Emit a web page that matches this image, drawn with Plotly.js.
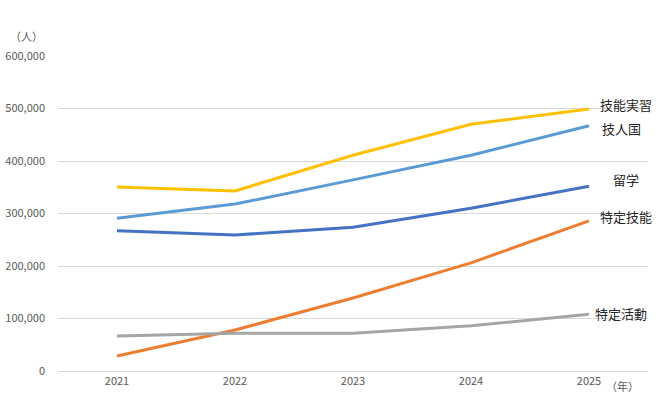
<!DOCTYPE html>
<html><head><meta charset="utf-8">
<script src="https://cdn.plot.ly/plotly-3.0.1.min.js"></script>
<style>html,body{margin:0;padding:0;background:#fff}#chart{width:664px;height:401px}</style>
</head><body><div id="chart"></div>
<script>
const years = ["2021","2022","2023","2024","2025"];
const seriesNames = ["技能実習","技人国","留学","特定技能","特定活動"];
const ginouJisshu = [350500, 343000, 411000, 470000, 499000];
const gijinkoku = [291000, 318000, 364000, 411000, 467000];
const ryugaku = [267000, 259000, 274000, 310000, 352000];
const tokuteiGinou = [28600, 78000, 139000, 206000, 286000];
const tokuteiKatsudo = [66700, 72000, 72000, 86000, 108000];
const yTickVals = [0,100000,200000,300000,400000,500000,600000];
const yTickText = ["0","100,000","200,000","300,000","400,000","500,000","600,000"];

const values = [ginouJisshu, gijinkoku, ryugaku, tokuteiGinou, tokuteiKatsudo];
const colors = ["#FFC000","#5B9BD5","#4472C4","#ED7D31","#A5A5A5"];
const labelShift = [[37,5],[32,-3],[37,7],[37,4],[32,1]];

const traces = values.map((v,i)=>({
  x: years, y: v, type:'scatter', mode:'lines', name: seriesNames[i],
  line:{color:colors[i], width:3}, hoverinfo:'skip'
}));

const lastIdx = years.length-1;
const annotations = values.map((v,i)=>({
  x: lastIdx, y: v[lastIdx], xref:'x', yref:'y',
  text: seriesNames[i], showarrow:false, xanchor:'center', yanchor:'middle',
  xshift: labelShift[i][0], yshift: labelShift[i][1],
  font:{family:'"Noto Sans CJK JP", sans-serif', size:13, color:'#262626'}
}));
annotations.push({xref:'paper', yref:'paper', x:0, y:1.0, xshift:-32, yshift:20, text:'（人）', showarrow:false,
  xanchor:'center', yanchor:'middle', font:{family:'"Noto Sans CJK JP", sans-serif', size:11, color:'#595959'}});
annotations.push({xref:'x', yref:'paper', x:lastIdx, y:0, xshift:33, yshift:-15, text:'（年）', showarrow:false,
  xanchor:'center', yanchor:'middle', font:{family:'"Noto Sans CJK JP", sans-serif', size:11, color:'#595959'}});

const layout = {
  width:664, height:401,
  margin:{l:58, r:16, t:56, b:30},
  paper_bgcolor:'#fff', plot_bgcolor:'#fff',
  showlegend:false,
  font:{family:'"Noto Sans CJK JP", sans-serif', size:11, color:'#595959'},
  xaxis:{type:'category', range:[-0.5,4.5], showgrid:false, zeroline:false,
    showline:true, linecolor:'#d9d9d9', linewidth:1, ticks:'', fixedrange:true,
    tickfont:{size:11, color:'#595959'}},
  yaxis:{range:[0,600000], tickvals:yTickVals, ticktext:yTickText, showgrid:true,
    gridcolor:'#d9d9d9', gridwidth:1, zeroline:false, showline:false, ticks:'',
    ticklabelstandoff:12, tickfont:{size:11, color:'#595959'}},
  annotations: annotations
};
Plotly.newPlot('chart', traces, layout, {displayModeBar:false, staticPlot:true});
</script></body></html>
